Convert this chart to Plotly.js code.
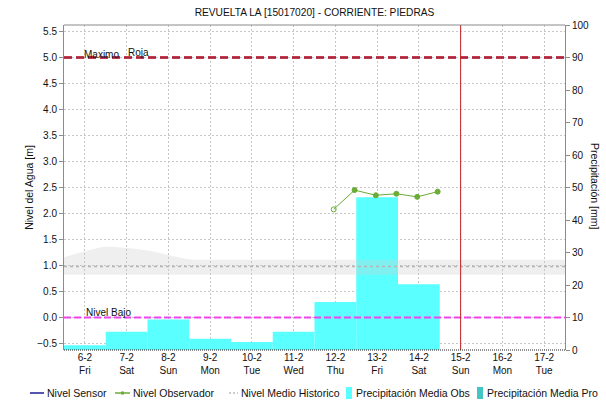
<!DOCTYPE html>
<html><head><meta charset="utf-8">
<script src="https://cdn.plot.ly/plotly-3.0.1.min.js"></script>
<style>html,body{margin:0;padding:0;background:#fff}#chart{width:606px;height:404px}</style>
</head><body><div id="chart"></div>
<script>
// ---- data ----
const dayLabels = ['6-2','7-2','8-2','9-2','10-2','11-2','12-2','13-2','14-2','15-2','16-2','17-2'];
const weekdays  = ['Fri','Sat','Sun','Mon','Tue','Wed','Thu','Fri','Sat','Sun','Mon','Tue'];
const dayIndex  = [0,1,2,3,4,5,6,7,8,9,10,11];
const precipDays = [0,1,2,3,4,5,6,7,8];
const precipObs  = [1.5, 5.6, 9.4, 3.5, 2.5, 5.6, 14.8, 47.0, 20.2];   // mm
const obsTime  = [5.96, 6.46, 6.97, 7.46, 7.96, 8.45];                 // day index
const obsLevel = [2.08, 2.45, 2.35, 2.38, 2.32, 2.42];                 // m
const histX     = [-0.5, 0.5, 1.5, 2.5, 3.5, 4.5, 5.5, 6.5, 7.5, 8.5, 9.5, 10.5, 11.5];
const histUpper = [1.16, 1.36, 1.29, 1.12, 1.11, 1.11, 1.11, 1.11, 1.11, 1.11, 1.11, 1.11, 1.11];
const histLower = [0.82, 0.82, 0.82, 0.82, 0.82, 0.82, 0.82, 0.82, 0.82, 0.82, 0.82, 0.82, 0.82];
const histMean  = [0.98, 0.98, 0.98, 0.98, 0.98, 0.98, 0.98, 0.98, 0.98, 0.98, 0.98, 0.98, 0.98];
const levelMaximo = 5.0;
const levelRoja = 5.0;
const levelBajo = 0.0;
const nowIndex = 9;
const titleText = 'REVUELTA LA [15017020] - CORRIENTE: PIEDRAS';

// ---- geometry helpers (legend placement in pixels) ----
const W = 606, H = 404, L = 64, R = 41, T = 25, B = 54;
const pw = W - L - R, ph = H - T - B;
const px = v => (v - L) / pw;
const py = v => (H - B - v) / ph;
const FONT = 'Liberation Sans, Arial, sans-serif';

const traces = [
  { type:'bar', x: precipDays, y: precipObs, width: 1, yaxis:'y',
    marker:{color:'#5affff', line:{width:0}}, hoverinfo:'skip' },
  { type:'scatter', mode:'lines', x: histX, y: histLower, yaxis:'y2',
    line:{width:0, shape:'spline', smoothing:0.6}, hoverinfo:'skip' },
  { type:'scatter', mode:'lines', x: histX, y: histUpper, yaxis:'y2', fill:'tonexty',
    fillcolor:'rgba(205,205,205,0.32)', line:{width:0, shape:'spline', smoothing:0.6}, hoverinfo:'skip' },
  { type:'scatter', mode:'lines', x: histX, y: histMean, yaxis:'y2',
    line:{color:'#b4b4b4', width:1.5, dash:'3px,3px'} },
  { type:'scatter', mode:'lines+markers', x: obsTime, y: obsLevel, yaxis:'y2',
    line:{color:'#6aac36', width:1},
    marker:{color:'#6aac36', size:5, symbol:['circle-open','circle','circle','circle','circle','circle'],
            line:{color:'#6aac36', width:1}} }
];

const gridStyle = {gridcolor:'#c6c6c6', griddash:'2px,2px', gridwidth:1};

const shapes = [
  // alert lines
  {type:'line', xref:'paper', x0:0, x1:1, yref:'y2', y0:levelRoja, y1:levelRoja,
   line:{color:'#c8405a', width:3, dash:'8px,4px'}},
  {type:'line', xref:'paper', x0:0, x1:1, yref:'y2', y0:levelMaximo, y1:levelMaximo,
   line:{color:'#a8283e', width:1.5, dash:'8px,4px'}},
  {type:'line', xref:'paper', x0:0, x1:1, yref:'y2', y0:levelBajo, y1:levelBajo,
   line:{color:'#ee44ee', width:2, dash:'7px,3px'}},
  // current time
  {type:'line', xref:'x', x0:nowIndex, x1:nowIndex, yref:'paper', y0:0, y1:1,
   line:{color:'#c42020', width:1}},
  // frame
  {type:'line', xref:'paper', x0:0, x1:1, yref:'paper', y0:1, y1:1, line:{color:'#8c8c8c', width:1}},
  {type:'line', xref:'paper', x0:0, x1:1, yref:'paper', y0:0, y1:0, line:{color:'#222', width:1, dash:'1px,1px'}},
  // legend symbols
  {type:'line', xref:'paper', yref:'paper', x0:px(30), x1:px(44), y0:py(393), y1:py(393), line:{color:'#1c1c96', width:1.5}},
  {type:'line', xref:'paper', yref:'paper', x0:px(115), x1:px(130), y0:py(393), y1:py(393), line:{color:'#6aac36', width:1.5}},
  {type:'rect', xref:'paper', yref:'paper', x0:px(121), x1:px(124), y0:py(391.5), y1:py(394.5), fillcolor:'#6aac36', line:{width:0}},
  {type:'line', xref:'paper', yref:'paper', x0:px(229), x1:px(238), y0:py(393), y1:py(393), line:{color:'#bdbdbd', width:1.5, dash:'2px,2px'}},
  {type:'rect', xref:'paper', yref:'paper', x0:px(346), x1:px(352), y0:py(387), y1:py(399), fillcolor:'#5affff', line:{width:0}},
  {type:'rect', xref:'paper', yref:'paper', x0:px(477), x1:px(483), y0:py(387), y1:py(399), fillcolor:'#44c4c4', line:{width:0}}
];

function legendText(text, x) {
  return {text, xref:'paper', yref:'paper', x:px(x), y:py(393), xanchor:'left', yanchor:'middle',
          showarrow:false, font:{family:FONT, size:10.5, color:'#111'}, borderpad:0};
}

const annotations = [
  {text:'Maximo', xref:'paper', yref:'y2', x:px(83), y:levelMaximo, yshift:3, xanchor:'left', yanchor:'middle',
   showarrow:false, font:{family:FONT, size:10, color:'#111'}, borderpad:0},
  {text:'Roja', xref:'paper', yref:'y2', x:px(127), y:levelRoja, yshift:5, xanchor:'left', yanchor:'middle',
   showarrow:false, font:{family:FONT, size:10, color:'#111'}, borderpad:0},
  {text:'Nivel Bajo', xref:'paper', yref:'y2', x:px(85), y:levelBajo, yshift:5, xanchor:'left', yanchor:'middle',
   showarrow:false, font:{family:FONT, size:10, color:'#111'}, borderpad:0},
  {text:'Precipitación [mm]', xref:'paper', yref:'paper', x:px(595), y:py(186), textangle:90,
   xanchor:'center', yanchor:'middle', showarrow:false, font:{family:FONT, size:10.5, color:'#111'}},
  legendText('Nivel Sensor', 46),
  legendText('Nivel Observador', 132),
  legendText('Nivel Medio Historico', 240),
  legendText('Precipitación Media Obs', 355),
  legendText('Precipitación Media Pro', 486)
];

const layout = {
  width: W, height: H,
  margin:{l:L, r:R, t:T, b:B, pad:0},
  paper_bgcolor:'#fff', plot_bgcolor:'#fff',
  showlegend:false,
  font:{family:FONT, size:10, color:'#111'},
  title:{text:titleText, font:{family:FONT, size:10.2, color:'#111'},
         x:0.5, xref:'paper', xanchor:'center', y:1 - 12/H, yref:'container', yanchor:'middle'},
  xaxis:Object.assign({range:[-0.5, 11.5], tickmode:'array', tickvals:dayIndex,
         ticktext: dayLabels.map((d,i)=>d + '<br>' + weekdays[i]),
         showgrid:true, zeroline:false, showline:false, ticks:'', fixedrange:true,
         tickfont:{family:FONT, size:10, color:'#111'}}, gridStyle),
  yaxis:{range:[0,100], side:'right', dtick:10, tick0:0, showgrid:false, zeroline:false,
         showline:true, linecolor:'#8c8c8c', linewidth:1, ticks:'outside', ticklen:4, tickcolor:'#8c8c8c',
         tickfont:{family:FONT, size:10, color:'#111'}},
  yaxis2:Object.assign({range:[-0.625, 5.625], overlaying:'y', side:'left', dtick:0.5, tick0:0,
         tickformat:'.1f', zeroline:false, showline:true, linecolor:'#8c8c8c', linewidth:1,
         ticks:'outside', ticklen:4, tickcolor:'#8c8c8c', showgrid:true,
         title:{text:'Nivel del Agua [m]', font:{family:FONT, size:10.5, color:'#111'}, standoff:1},
         tickfont:{family:FONT, size:10, color:'#111'}}, gridStyle),
  shapes, annotations
};

Plotly.newPlot('chart', traces, layout, {displayModeBar:false, staticPlot:true});
</script>
</body></html>
